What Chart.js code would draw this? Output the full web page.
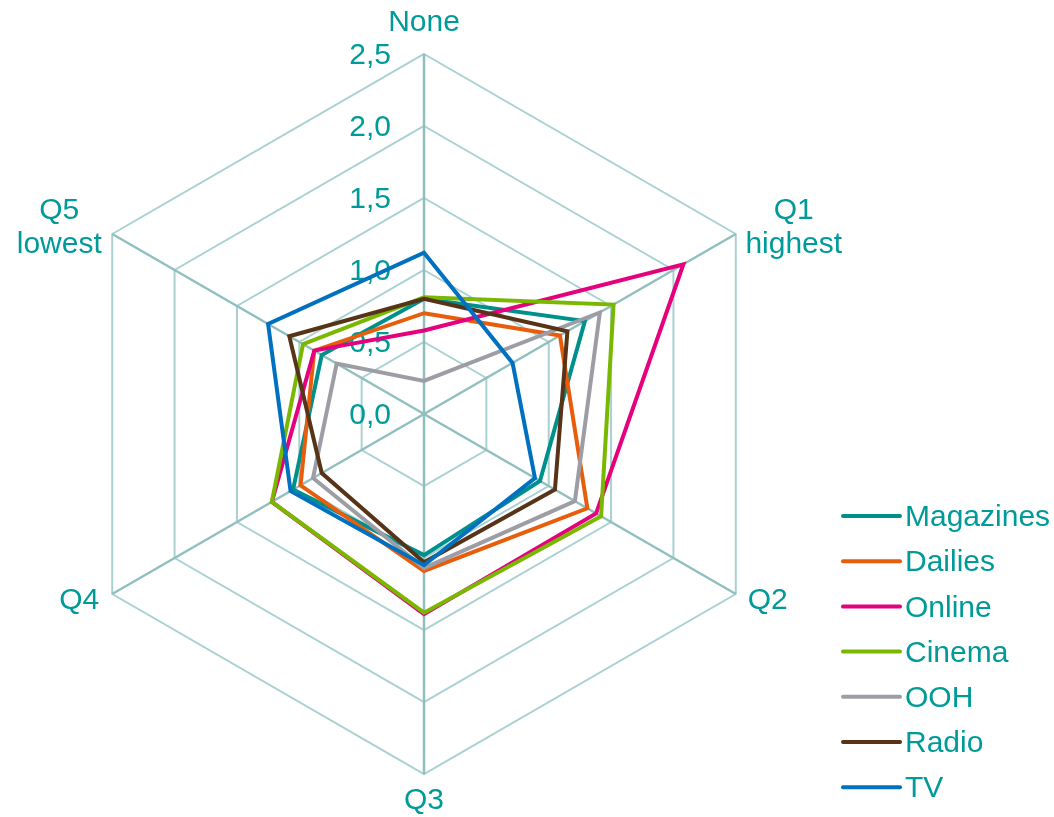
<!DOCTYPE html>
<html>
<head>
<meta charset="utf-8">
<script src="https://cdn.jsdelivr.net/npm/chart.js@4.4.1/dist/chart.umd.min.js"></script>
<style>
  html, body { margin: 0; padding: 0; background: #fff; }
  #wrap { width: 1054px; height: 817px; }
</style>
</head>
<body>
<div id="wrap"><canvas id="radarChart" width="1054" height="817"></canvas></div>
<script>
// axes go clockwise from the top
const axisLabels = [['None'], ['Q1', 'highest'], ['Q2'], ['Q3'], ['Q4'], ['Q5', 'lowest']];
const tickLabels = ['0,0', '0,5', '1,0', '1,5', '2,0', '2,5'];

const seriesNames = ['Magazines', 'Dailies', 'Online', 'Cinema', 'OOH', 'Radio', 'TV'];
const magazines = [0.80, 1.29, 0.93, 0.98, 1.05, 0.82];
const dailies   = [0.70, 1.09, 1.31, 1.09, 0.99, 0.88];
const online    = [0.58, 2.08, 1.38, 1.39, 1.22, 0.88];
const cinema    = [0.81, 1.52, 1.42, 1.38, 1.22, 0.97];
const ooh       = [0.23, 1.41, 1.21, 1.07, 0.89, 0.70];
const radio     = [0.80, 1.15, 1.05, 1.03, 0.82, 1.08];
const tv        = [1.12, 0.71, 0.89, 1.05, 1.07, 1.25];
const seriesColors = ['#00908c', '#e85d0c', '#e5007d', '#7ab800', '#9d9ea5', '#573318', '#0070c0'];

const textColor = '#009a98';
const font = '30px "Liberation Sans", Arial, sans-serif';

// tick labels sit left of the top spoke, under the lines
const tickLabelPlugin = {
    id: 'tickLabels',
    beforeDatasetsDraw(chart) {
        const scale = chart.scales.r;
        const ctx = chart.ctx;
        ctx.save();
        ctx.font = font;
        ctx.fillStyle = textColor;
        ctx.textAlign = 'right';
        ctx.textBaseline = 'middle';
        scale.ticks.forEach(function (tick, i) {
            const p = scale.getPointPosition(0, scale.getDistanceFromCenterForValue(tick.value));
            ctx.fillText(tickLabels[i], p.x - 33, p.y + 2);
        });
        ctx.restore();
    }
};

// axis titles and the legend on the right
const labelPlugin = {
    id: 'axisTitles',
    afterDraw(chart) {
        const scale = chart.scales.r;
        const ctx = chart.ctx;
        const place = [
            { align: 'center', dx: 0, dy: -31 },
            { align: 'center', dx: 58, dy: -23 },
            { align: 'left', dx: 12, dy: 7 },
            { align: 'center', dx: 0, dy: 27 },
            { align: 'right', dx: -13, dy: 7 },
            { align: 'center', dx: -53, dy: -23 }
        ];
        ctx.save();
        ctx.font = font;
        ctx.fillStyle = textColor;
        ctx.textBaseline = 'middle';
        axisLabels.forEach(function (lines, i) {
            const p = scale.getPointPosition(i, scale.drawingArea);
            ctx.textAlign = place[i].align;
            lines.forEach(function (line, k) {
                ctx.fillText(line, p.x + place[i].dx, p.y + place[i].dy + k * 34);
            });
        });

        // legend
        ctx.textAlign = 'left';
        chart.data.datasets.forEach(function (ds, i) {
            const y = 516 + i * 45.2;
            ctx.strokeStyle = ds.borderColor;
            ctx.lineWidth = 4;
            ctx.lineCap = 'round';
            ctx.beginPath();
            ctx.moveTo(843, y);
            ctx.lineTo(900, y);
            ctx.stroke();
            ctx.fillText(ds.label, 905, y + 2);
        });
        ctx.restore();
    }
};

const seriesData = [magazines, dailies, online, cinema, ooh, radio, tv];
const datasets = seriesNames.map(function (name, i) {
    return {
        label: name,
        data: seriesData[i],
        borderColor: seriesColors[i],
        backgroundColor: seriesColors[i],
        borderWidth: 4,
        fill: false,
        pointRadius: 0,
        pointHoverRadius: 0,
        order: seriesNames.length - i
    };
});

const ctx = document.getElementById('radarChart').getContext('2d');
const radarChart = new Chart(ctx, {
    type: 'radar',
    data: {
        labels: axisLabels.map(function (l) { return l.join(' '); }),
        datasets: datasets
    },
    options: {
        responsive: false,
        animation: false,
        devicePixelRatio: 1,
        layout: {
            padding: { left: 64, right: 270, top: 54, bottom: 43 }
        },
        plugins: {
            legend: { display: false },
            tooltip: { enabled: false }
        },
        elements: {
            line: { tension: 0, borderJoinStyle: 'miter' }
        },
        scales: {
            r: {
                min: 0,
                max: 2.5,
                ticks: { stepSize: 0.5, display: false },
                pointLabels: { display: false },
                grid: { color: '#a9d1d1', lineWidth: 2 },
                angleLines: { color: '#91bfbf', lineWidth: 2.5 }
            }
        }
    },
    plugins: [tickLabelPlugin, labelPlugin]
});
</script>
</body>
</html>
